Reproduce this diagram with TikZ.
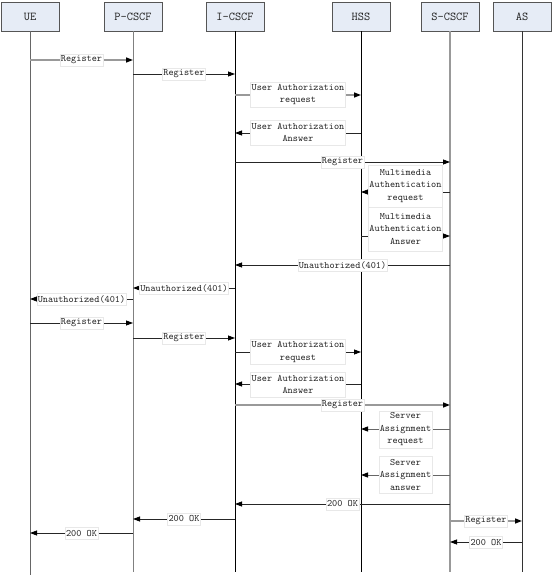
\documentclass[tikz,border=0pt]{standalone}
\usepackage{fontspec}
\usetikzlibrary{arrows.meta}
\definecolor{boxfill}{HTML}{E6ECF6}
\definecolor{boxline}{HTML}{555555}
\definecolor{txt}{HTML}{222222}
\newcommand\mymsg[8]{%
  \coordinate (#2a) at (#3,#5);
  \coordinate (#2b) at (#4,#5);
  \draw[#1] (#2a) -- (#2b);
  \node[lbl, minimum height=#7] (#2) at ({(#3+#4)/2},#6) {#8};
}
\begin{document}
\begin{tikzpicture}[x=1pt,y=-1pt,
  actor/.style={rectangle, draw=boxline, line width=0.8pt, fill=boxfill,
    minimum width=58pt, minimum height=29pt, inner sep=0pt,
    font=\ttfamily\fontsize{12}{13}\selectfont, text=txt},
  lifeline/.style={line width=0.8pt},
  lbl/.style={rectangle, fill=white, draw=gray!18, line width=0.5pt,
    inner xsep=1pt, inner ysep=0.5pt, align=center, text=txt,
    font=\ttfamily\fontsize{9.8}{12.5}\selectfont},
  tip/.style={-{Triangle[length=7pt,width=5pt,color=black]}},
  msg/.style={line width=0.8pt, draw=black!85, tip},
  msgg/.style={line width=1.5pt, draw=black!40, tip},
  msgm/.style={line width=1pt, draw=black!60, tip},
]
\useasboundingbox (0,0) rectangle (555,578);
\fill[white] (0,0) rectangle (555,578);

% actors
\node[actor] (ue)  at (30,16.5)  {UE};
\node[actor] (pc)  at (133,16.5) {P-CSCF};
\node[actor] (ic)  at (235,16.5) {I-CSCF};
\node[actor] (hss) at (361,16.5) {HSS};
\node[actor] (sc)  at (450,16.5) {S-CSCF};
\node[actor] (as)  at (522,16.5) {AS};

% lifelines
\coordinate (ue-end)  at (30,575);
\coordinate (pc-end)  at (133,572);
\coordinate (ic-end)  at (235,572);
\coordinate (hss-end) at (361,572);
\coordinate (sc-end)  at (450,572);
\coordinate (as-end)  at (522,572);
\draw[lifeline, draw=black!60] (ue.south) -- (ue-end);
\draw[lifeline, draw=black!50, line width=1pt] (pc.south) -- (pc-end);
\draw[lifeline, draw=black, line width=0.7pt] (ic.south) -- (ic-end);
\draw[lifeline, draw=black, line width=0.7pt] (hss.south) -- (hss-end);
\draw[lifeline, draw=black!40, line width=1.5pt] (sc.south) -- (sc-end);
\draw[lifeline, draw=black!80] (as.south) -- (as-end);

% messages
\mymsg{msgg}{m1}{30}{133}{60}{60}{12pt}{Register}
\mymsg{msg}{m2}{133}{235}{74}{74}{12pt}{Register}
\mymsg{msgg}{m3}{235}{361}{95}{94.5}{25pt}{User Authorization\\request}
\mymsg{msg}{m4}{361}{235}{133}{132.5}{25pt}{User Authorization\\Answer}
\mymsg{msg}{m5}{235}{450}{162}{162}{12pt}{Register}
\mymsg{msg}{m6}{450}{361}{192}{186}{42pt}{Multimedia\\Authentication\\request}
\mymsg{msg}{m7}{361}{450}{236}{229}{44pt}{Multimedia\\Authentication\\Answer}
\mymsg{msg}{m8}{450}{235}{265}{265}{12pt}{Unauthorized(401)}
\mymsg{msg}{m9}{235}{133}{288}{288}{12pt}{Unauthorized(401)}
\mymsg{msg}{m10}{133}{30}{299}{299}{12pt}{Unauthorized(401)}
\mymsg{msg}{m11}{30}{133}{323}{323}{12pt}{Register}
\mymsg{msg}{m12}{133}{235}{338}{338}{12pt}{Register}
\mymsg{msg}{m13}{235}{361}{352}{352}{25pt}{User Authorization\\request}
\mymsg{msg}{m14}{361}{235}{384}{384.5}{25pt}{User Authorization\\Answer}
\mymsg{msgg}{m15}{235}{450}{405}{405}{12pt}{Register}
\mymsg{msgm}{m16}{450}{361}{429}{429.5}{37pt}{Server\\Assignment\\request}
\mymsg{msgm}{m17}{450}{361}{475}{474.5}{37pt}{Server\\Assignment\\answer}
\mymsg{msg}{m18}{450}{235}{504}{504}{12pt}{200 OK}
\mymsg{msg}{m19}{235}{133}{519}{519}{12pt}{200 OK}
\mymsg{msg}{m20}{133}{30}{533}{533}{12pt}{200 OK}
\mymsg{msgg}{m21}{450}{522}{521}{521}{12pt}{Register}
\mymsg{msg}{m22}{522}{450}{542}{542}{12pt}{200 OK}
\end{tikzpicture}
\end{document}
